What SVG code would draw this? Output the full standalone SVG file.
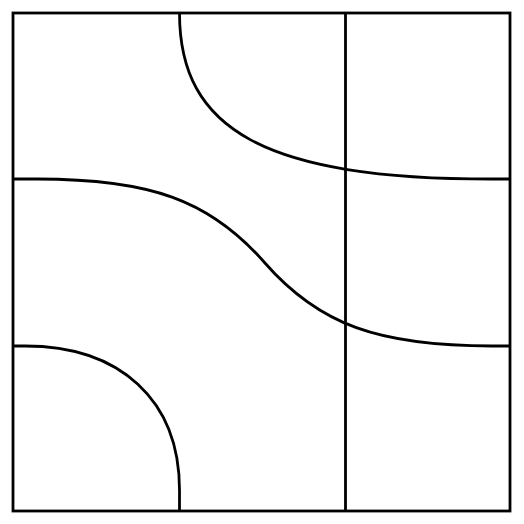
<svg xmlns="http://www.w3.org/2000/svg" width="524" height="524" viewBox="0 0 524 524">
<style>
.s{fill:none;stroke:#000;stroke-width:2.8;stroke-linecap:butt;stroke-linejoin:miter}
</style>
<rect width="524" height="524" fill="#fff"/>
<g id="frame">
<rect class="s" x="13" y="13" width="497" height="498"/>
<line class="s" x1="345.5" y1="13" x2="345.5" y2="511"/>
</g>
<g id="curves">
<path class="s" d="M179.5,13 C179.5,130 265,179 492,179 L510,179"/>
<path class="s" d="M13,179 L37,179 C150,179 210,200 264.5,262.5 C319,325 379,346 492,346 L510,346"/>
<path class="s" d="M13,346 L25,346 C120,346 179.5,400 179.5,490 L179.5,511"/>
</g>
</svg>
